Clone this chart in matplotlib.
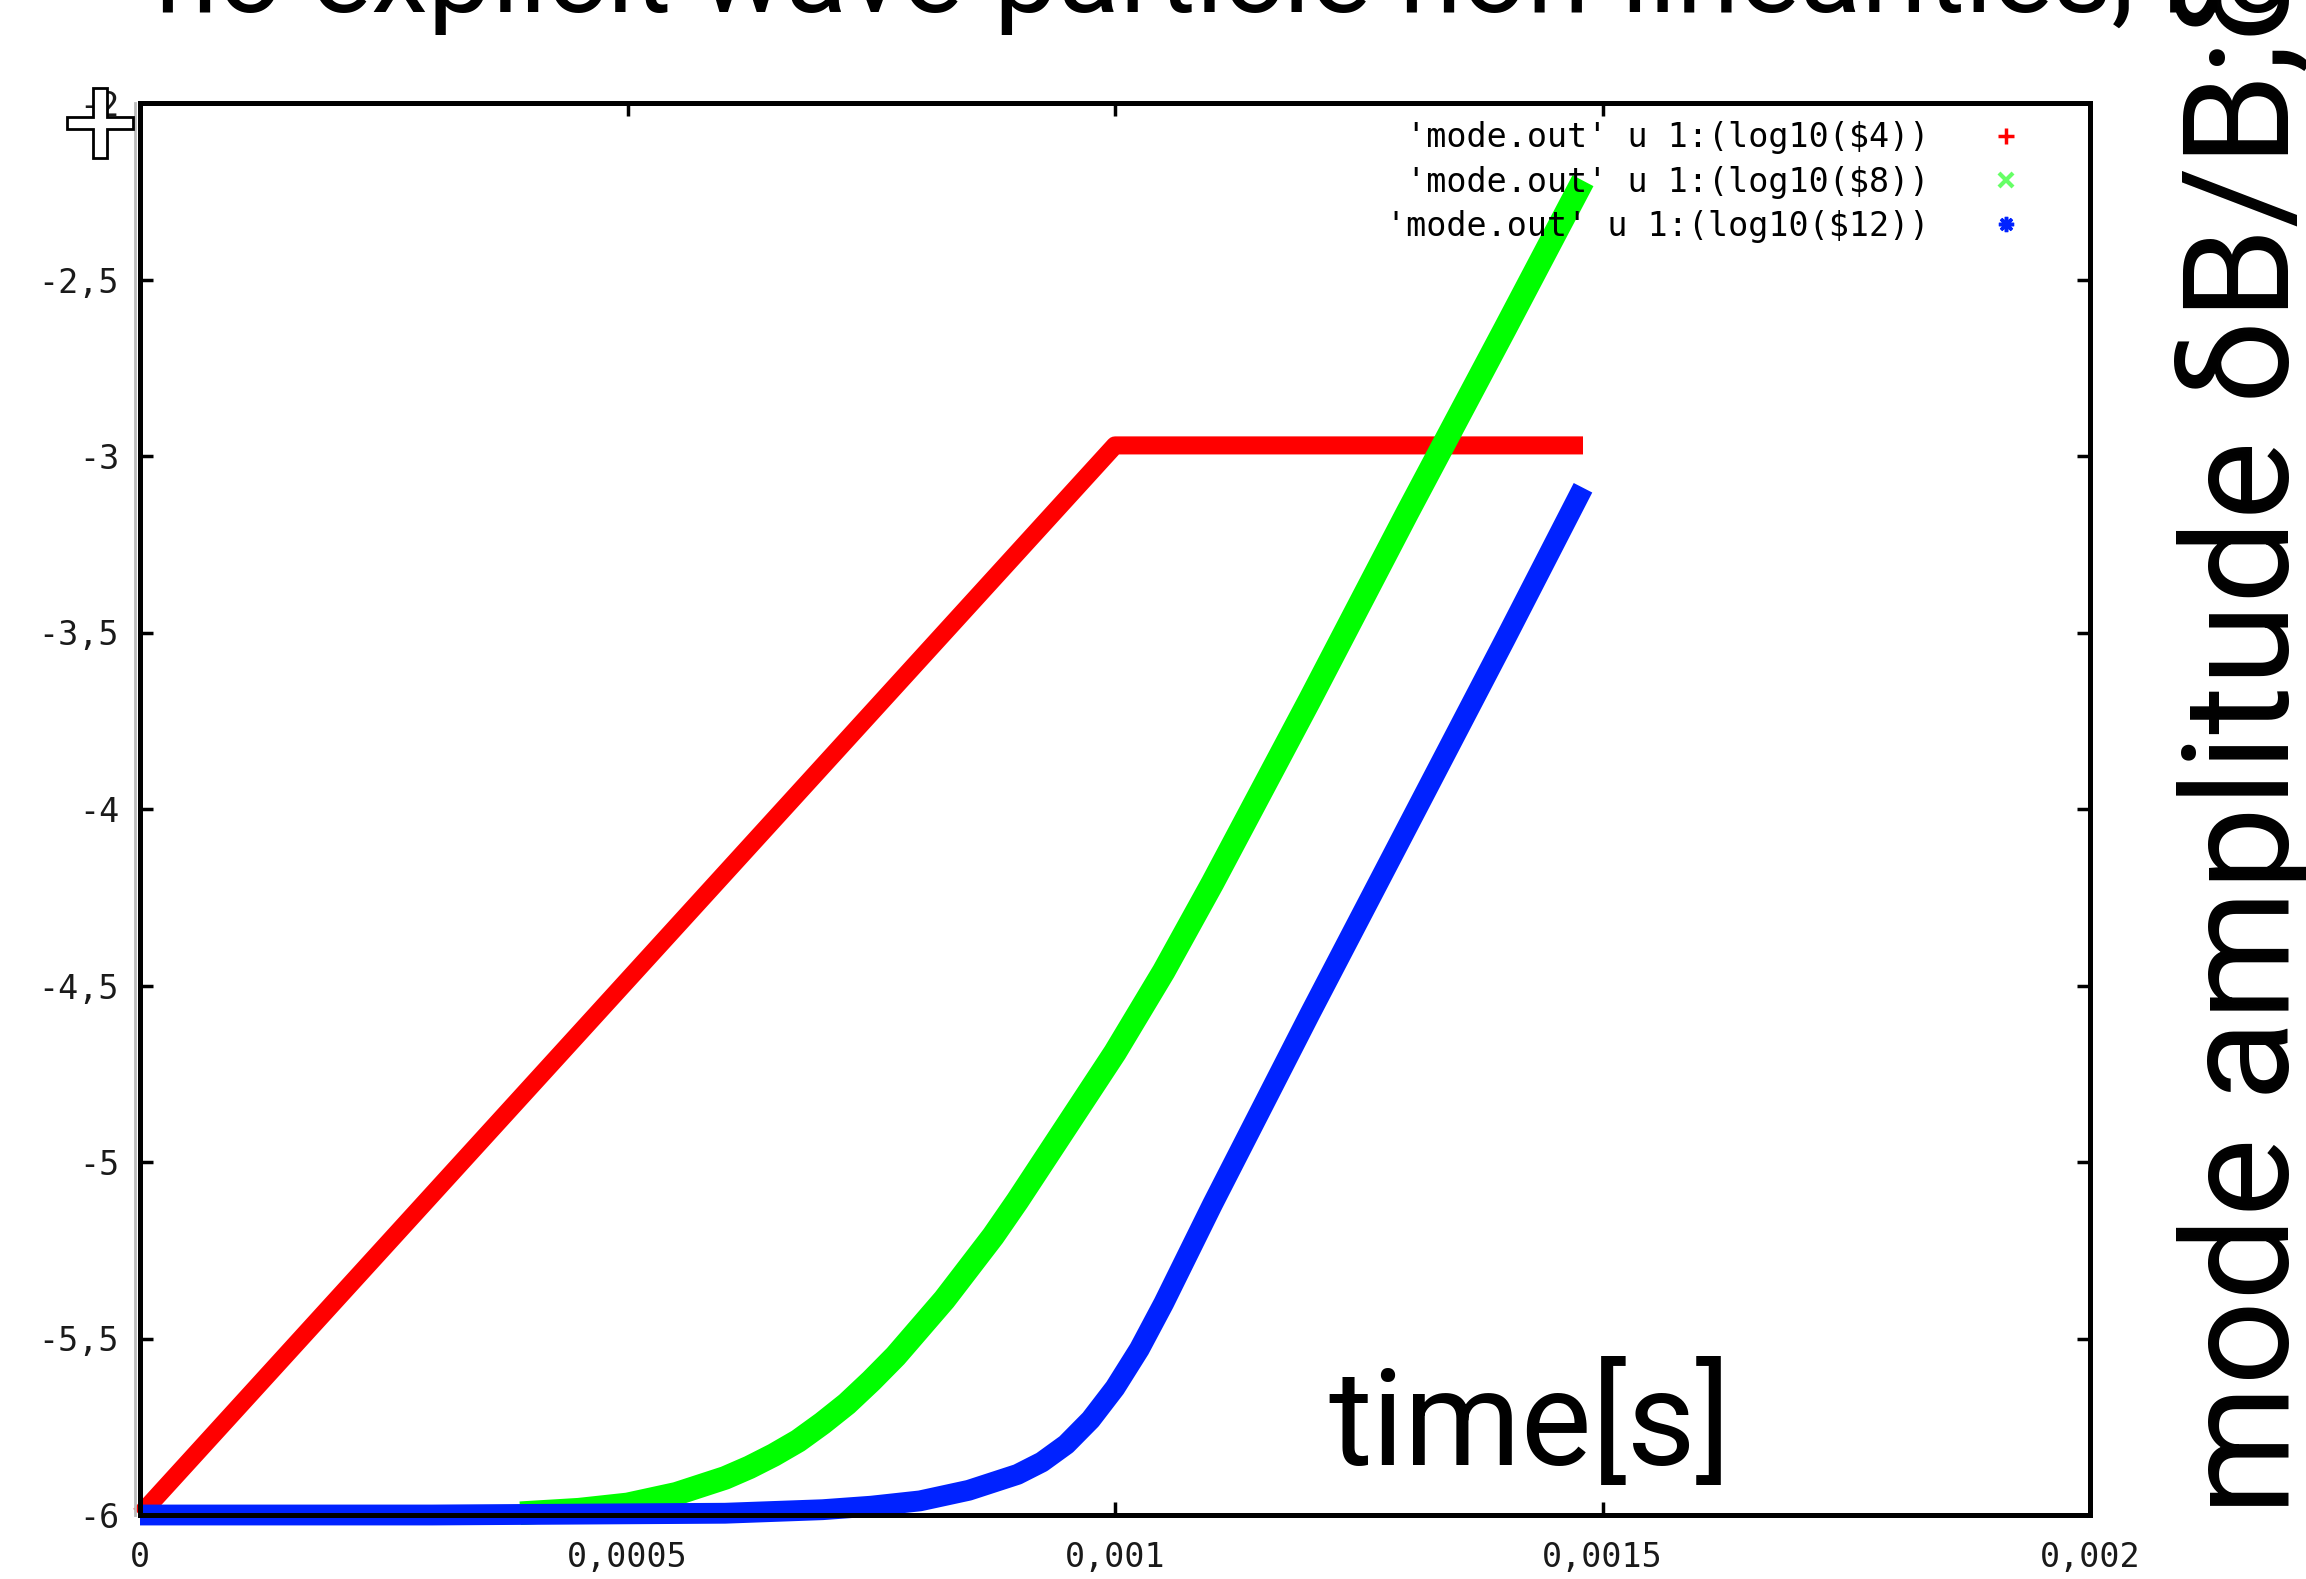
import matplotlib.pyplot as plt
from matplotlib.lines import Line2D
from matplotlib.patches import Polygon

# log10 of the mode amplitudes from mode.out (columns 4, 8, 12) against time
t_red = [0.0, 0.001, 0.00148]
y_red = [-6.0, -2.97, -2.97]

t_green = [0.00039, 0.00045, 0.0005, 0.00055, 0.0006, 0.000625, 0.00065, 0.000675,
           0.0007, 0.000725, 0.00075, 0.000775, 0.0008, 0.000825, 0.00085, 0.000875,
           0.0009, 0.000925, 0.00095, 0.000975, 0.001, 0.00105, 0.0011, 0.0012,
           0.0013, 0.0014, 0.00148]
y_green = [-5.995, -5.985, -5.97, -5.94, -5.895, -5.865, -5.83, -5.79,
           -5.74, -5.685, -5.62, -5.55, -5.47, -5.39, -5.30, -5.21,
           -5.11, -5.005, -4.90, -4.795, -4.69, -4.46, -4.21, -3.69,
           -3.16, -2.64, -2.22]

t_blue = [0.0, 0.0003, 0.0006, 0.00065, 0.0007, 0.00075, 0.0008, 0.00085,
          0.0009, 0.000925, 0.00095, 0.000975, 0.001, 0.001025, 0.00105, 0.001075,
          0.0011, 0.00115, 0.0012, 0.0013, 0.0014, 0.00148]
y_blue = [-6.0, -6.0, -5.995, -5.99, -5.985, -5.975, -5.96, -5.93,
          -5.885, -5.85, -5.80, -5.73, -5.64, -5.53, -5.40, -5.26,
          -5.12, -4.85, -4.58, -4.05, -3.52, -3.09]

legend_labels = [" 'mode.out' u 1:(log10($4))",
                 " 'mode.out' u 1:(log10($8))",
                 "'mode.out' u 1:(log10($12))"]

x_ticks = [0, 0.0005, 0.001, 0.0015, 0.002]
x_ticklabels = ["0", "0,0005", "0,001", "0,0015", "0,002"]
y_ticks = [-6, -5.5, -5, -4.5, -4, -3.5, -3, -2.5, -2]
y_ticklabels = ["-6", "-5,5", "-5", "-4,5", "-4", "-3,5", "-3", "-2,5", "-2"]

title = "no explicit wave-particle non-linearities, no"
xlabel = "time[s]"
ylabel = "mode amplitude δB/B;δΦ"

W, H = 2306, 1579
MONO = ["DejaVu Sans Mono"]
BIG = ["Roboto", "DejaVu Sans"]


def fx(px):
    return px / W


def fy(py):
    return 1 - py / H


fig = plt.figure(figsize=(W / 100, H / 100), dpi=100)
ax = fig.add_axes([fx(140), fy(1515), (2090 - 140) / W, (1515 - 103) / H])

ax.plot(t_red, y_red, color="#ff0000", lw=13, solid_capstyle="butt", clip_on=False)
ax.plot(t_green, y_green, color="#00ff00", lw=17, solid_capstyle="butt", clip_on=False)
ax.plot(t_blue, y_blue, color="#0022ff", lw=15, solid_capstyle="butt", clip_on=False)

ax.set_xlim(0, 0.002)
ax.set_ylim(-6, -2)
ax.set_xticks(x_ticks)
ax.set_xticklabels(x_ticklabels, family=MONO, fontsize=24, color="#1a1a1a")
ax.set_yticks(y_ticks)
ax.set_yticklabels(y_ticklabels, family=MONO, fontsize=24, color="#1a1a1a")
ax.tick_params(direction="in", length=9.5, width=2.5, top=True, right=True)
ax.tick_params(axis="x", pad=19)
ax.tick_params(axis="y", pad=15)
for sp in ax.spines.values():
    sp.set_linewidth(3.6)
    sp.set_zorder(5)

handles = [
    Line2D([], [], color="#ff0000", marker="+", ls="none", ms=11, mew=2.5),
    Line2D([], [], color="#66ff66", marker="x", ls="none", ms=10, mew=3),
    Line2D([], [], color="#0022ff", marker=(8, 2, 0), ls="none", ms=11, mew=2.5),
]
ax.legend(handles, legend_labels, loc="upper right", bbox_to_anchor=(0.974, 0.987),
          markerfirst=False, frameon=False, borderpad=0, borderaxespad=0,
          handlelength=2, handletextpad=1.3, labelspacing=0.34,
          prop={"family": MONO, "size": 24})

# grey shadow next to the left border
fig.add_artist(Line2D([fx(135), fx(135)], [fy(103), fy(1515)], color="#bbbbbb", lw=2))

# presentation overlay text
fig.text(fx(155), fy(12), title, family=BIG, fontsize=82,
         ha="left", va="baseline")
fig.text(fx(1328), fy(1465), xlabel, family=BIG, fontsize=96,
         ha="left", va="baseline")
fig.text(fx(2289), fy(1515), ylabel, family=BIG, fontsize=107,
         rotation=90, rotation_mode="anchor", ha="left", va="baseline")

# crosshair cursor over the top-left corner
cross = [(93, 88), (107, 88), (107, 117), (133, 117), (133, 129), (107, 129),
         (107, 158), (93, 158), (93, 129), (67, 129), (67, 117), (93, 117)]
fig.add_artist(Polygon([(fx(x), fy(y)) for x, y in cross], closed=True,
                       facecolor="white", edgecolor="black", lw=2, zorder=20))

fig.savefig("out.png", dpi=100)
